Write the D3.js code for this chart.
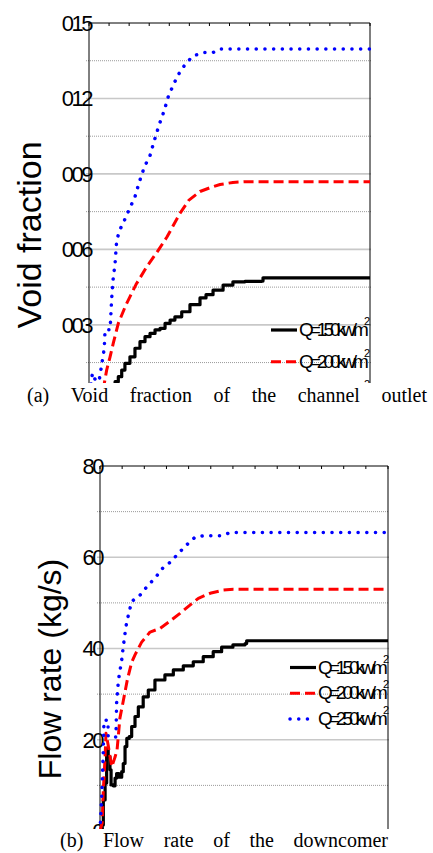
<!DOCTYPE html>
<html>
<head>
<meta charset="utf-8">
<script src="https://cdn.jsdelivr.net/npm/d3@7"></script>
<style>
  body { margin: 0; background: #fff; }
  svg { display: block; }
</style>
</head>
<body>
<svg id="fig" width="433" height="853"></svg>
<script>
// ---- (a) void fraction at the channel outlet (time in s) ----
const tVoid150 = [110,130,146,163,179,204,229,254,279,304,329,354,379,404,428,462,503,553,583,618,668,717,777,860,867,1400];
const void150  = [0.005,0.0074,0.0094,0.012,0.0147,0.0173,0.0207,0.0233,0.0253,0.0266,0.028,0.0286,0.0306,0.0319,0.0332,0.0352,0.038,0.0407,0.042,0.0438,0.0458,0.0471,0.0473,0.0474,0.0487,0.0487];
const tVoid200 = [70,88,105,121,146,184,234,287,344,389,453,498,553,603,653,717,777,1400];
const void200  = [0.004,0.012,0.0173,0.0227,0.0306,0.0379,0.046,0.053,0.0595,0.065,0.0743,0.0796,0.083,0.0845,0.0858,0.0866,0.0869,0.0869];
const tVoid250 = [5,17,32,50,63,76,80,105,113,120,130,138,155,171,204,229,251,276,304,324,349,374,395,420,445,483,520,569,619,653,1400];
const void250  = [0.003,0.0108,0.008,0.0075,0.014,0.0206,0.028,0.028,0.0405,0.048,0.0545,0.0637,0.068,0.0706,0.0765,0.0809,0.0869,0.0928,0.0973,0.1029,0.1094,0.115,0.1207,0.1254,0.1295,0.134,0.1369,0.1383,0.1383,0.1397,0.1397];

// ---- (b) downcomer flow rate (time in s) ----
const tFlow150 = [0,10,15,23,30,37,45,50,60,68,75,86,98,105,113,121,132,143,158,173,195,218,248,293,331,376,421,466,511,549,600,655,662,1300];
const flow150  = [0,1.3,6.8,10.5,18.1,16.3,13.4,10.1,9.9,11.6,12.6,11.8,13.0,14.8,18.5,20.3,20.7,22.9,25.1,27.2,29.4,30.9,33.1,34.2,35.3,36.2,37.1,38.2,39.3,40.3,40.8,41.1,41.7,41.7];
const tFlow200 = [0,10,15,23,27,37,45,53,68,77,83,90,105,124,143,158,188,226,271,316,361,406,444,497,557,602,1300];
const flow200  = [0,1.8,9,16.3,21.4,18.8,16.3,14.1,16.2,17.8,21,24.8,28.5,33.3,37,38.6,41.4,43.6,44.4,46,47.7,49.5,51,52.1,52.8,53.0,53.0];
const tFlow250 = [0,8,15,18,36,37,72,75,83,98,105,117,128,143,181,218,248,283,319,361,391,429,466,549,587,1300];
const flow250  = [0,8,17.8,24.3,24.3,20.6,20.6,28,33,37.5,40.4,44.8,47.3,50.3,51.7,53.9,55.4,57.6,59.0,61.2,62.7,64.4,64.7,64.7,65.4,65.4];

// ---- axes and labels ----
const voidTicks = [0, 0.03, 0.06, 0.09, 0.12, 0.15];
const voidTickLabels = ["0", "003", "006", "009", "012", "015"];
const flowTicks = [0, 20, 40, 60, 80];
const flowTickLabels = ["0", "20", "40", "60", "80"];
const legendNames = ["Q=150kw/m", "Q=200kw/m", "Q=250kw/m"];
const captionA = "(a) Void fraction of the channel outlet";
const captionB = "(b) Flow rate of the downcomer";

const svg = d3.select("#fig");
svg.append("rect").attr("width", 433).attr("height", 853).attr("fill", "#fff");
const defs = svg.append("defs");

const styles = [
  { stroke: "#000", width: 3.2, dash: null, cap: "butt", curve: d3.curveStepAfter },
  { stroke: "#ff0000", width: 3, dash: "10,5", cap: "butt", curve: d3.curveLinear },
  { stroke: "#0000ff", width: 3.5, dash: "0.1,8.6", cap: "round", curve: d3.curveLinear }
];

function drawPanel(p) {
  defs.append("clipPath").attr("id", p.id)
    .append("rect").attr("x", 0).attr("y", p.clipTop).attr("width", 433).attr("height", p.clipBottom - p.clipTop);
  const g = svg.append("g").attr("clip-path", `url(#${p.id})`);

  const x = d3.scaleLinear().domain(p.xDomain).range([p.left, p.right]);
  const y = d3.scaleLinear().domain([0, p.ticks[p.ticks.length - 1]]).range([p.zeroY, p.top]);

  // minor levels halfway between labelled ticks
  const minor = p.ticks.slice(1).map((t, i) => (t + p.ticks[i]) / 2);

  g.selectAll(".minor").data(minor).join("line")
    .attr("x1", p.left - 3).attr("x2", p.right + 1)
    .attr("y1", d => y(d)).attr("y2", d => y(d))
    .attr("stroke", "#9a9a9a").attr("stroke-width", 1).attr("stroke-dasharray", "1,1");
  g.selectAll(".major").data(p.ticks.slice(0, -1)).join("line")
    .attr("x1", p.left - 3).attr("x2", p.right + 1)
    .attr("y1", d => y(d)).attr("y2", d => y(d))
    .attr("stroke", "#c8c8c8").attr("stroke-width", 1.6);

  // frame
  g.append("line").attr("x1", p.left).attr("x2", p.right).attr("y1", p.top).attr("y2", p.top)
    .attr("stroke", "#000").attr("stroke-width", 1);
  g.append("line").attr("x1", p.left).attr("x2", p.left).attr("y1", p.top).attr("y2", p.zeroY)
    .attr("stroke", "#000").attr("stroke-width", 1);
  g.append("line").attr("x1", p.right).attr("x2", p.right).attr("y1", p.top).attr("y2", p.zeroY)
    .attr("stroke", "#000").attr("stroke-width", 1);

  // ticks along the top edge
  g.selectAll(".xt").data(d3.range(p.xDomain[0], p.xDomain[1] + 1, 100)).join("line")
    .attr("x1", d => x(d)).attr("x2", d => x(d))
    .attr("y1", p.top).attr("y2", p.top + 3)
    .attr("stroke", "#000").attr("stroke-width", 1);

  // y tick labels (only those inside the visible window)
  const labelled = p.ticks.map((d, i) => ({ v: d, label: p.tickLabels[i] }))
    .filter(d => y(d.v) - 8 < p.clipBottom);
  g.selectAll(".yl").data(labelled).join("text")
    .attr("x", p.left + 2).attr("y", d => y(d.v))
    .attr("dy", "0.36em")
    .attr("text-anchor", "end")
    .attr("font-family", "Liberation Sans, Arial, sans-serif")
    .attr("font-size", 22).attr("letter-spacing", "-2.5px")
    .attr("fill", "#000")
    .text(d => d.label);

  // series
  p.series.forEach((s, i) => {
    const st = styles[i];
    const pts = s.t.map((t, k) => [t, s.v[k]]);
    g.append("path")
      .attr("d", d3.line().x(d => x(d[0])).y(d => y(d[1])).curve(st.curve)(pts))
      .attr("fill", "none").attr("stroke", st.stroke).attr("stroke-width", st.width)
      .attr("stroke-dasharray", st.dash).attr("stroke-linecap", st.cap)
      .attr("stroke-linejoin", "round");
  });

  // legend
  legendNames.forEach((name, i) => {
    const st = styles[i];
    const ly = p.legendY + i * p.legendGap;
    g.append("line")
      .attr("x1", p.legendX).attr("x2", p.legendX + 26)
      .attr("y1", ly).attr("y2", ly)
      .attr("stroke", st.stroke).attr("stroke-width", st.width)
      .attr("stroke-dasharray", st.dash).attr("stroke-linecap", st.cap);
    const t = g.append("text")
      .attr("x", p.legendX + 28).attr("y", ly + 6)
      .attr("font-family", "Liberation Sans, Arial, sans-serif")
      .attr("font-size", 19).attr("letter-spacing", "-4px")
      .attr("fill", "#000");
    t.append("tspan").text(name);
    t.append("tspan").attr("dy", -11).attr("dx", -1).attr("font-size", 11).attr("letter-spacing", "0px").text("2");
  });

  // axis title
  g.append("text")
    .attr("transform", `translate(${p.titleX},${p.titleY}) rotate(-90)`)
    .attr("text-anchor", "middle")
    .attr("font-family", "Liberation Sans, Arial, sans-serif")
    .attr("font-size", p.titleSize).attr("fill", "#000")
    .text(p.title);
}

// justified caption line
function caption(text, x0, x1, base) {
  const words = text.split(" ");
  const nodes = words.map(w => svg.append("text")
    .attr("y", base)
    .attr("font-family", "Liberation Serif, Times New Roman, serif")
    .attr("font-size", 20).attr("fill", "#000").text(w));
  const widths = nodes.map(n => n.node().getComputedTextLength());
  const gap = (x1 - x0 - d3.sum(widths)) / (words.length - 1);
  let cx = x0;
  nodes.forEach((n, i) => { n.attr("x", cx); cx += widths[i] + gap; });
}

drawPanel({
  id: "clipA", clipTop: 0, clipBottom: 383,
  left: 89, right: 370, top: 23, zeroY: 400.3,
  xDomain: [0, 1400], ticks: voidTicks, tickLabels: voidTickLabels,
  series: [{ t: tVoid150, v: void150 }, { t: tVoid200, v: void200 }, { t: tVoid250, v: void250 }],
  legendX: 271, legendY: 330, legendGap: 31.7,
  title: "Void fraction", titleX: 41, titleY: 235, titleSize: 34
});

drawPanel({
  id: "clipB", clipTop: 430, clipBottom: 829,
  left: 100, right: 388, top: 466, zeroY: 831,
  xDomain: [0, 1300], ticks: flowTicks, tickLabels: flowTickLabels,
  series: [{ t: tFlow150, v: flow150 }, { t: tFlow200, v: flow200 }, { t: tFlow250, v: flow250 }],
  legendX: 290, legendY: 667.5, legendGap: 25.8,
  title: "Flow rate (kg/s)", titleX: 61, titleY: 669, titleSize: 32
});

caption(captionA, 27, 427, 401.7);
caption(captionB, 60, 388, 846.7);
</script>
</body>
</html>
